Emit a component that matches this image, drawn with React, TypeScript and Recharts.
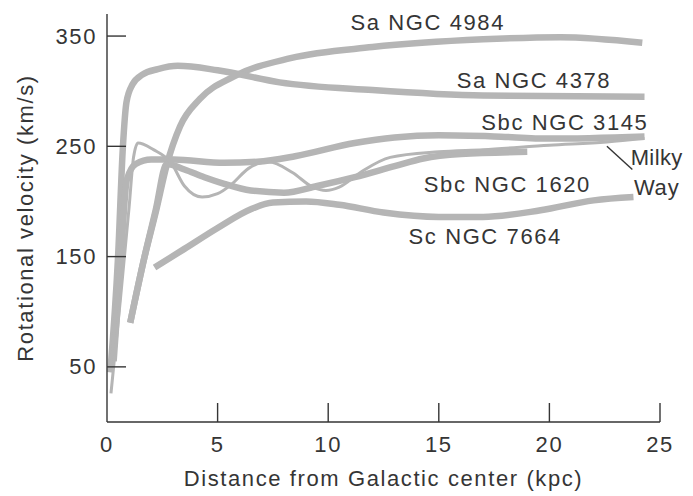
import React from 'react';
import { LineChart, Line, XAxis, YAxis, ReferenceDot, ReferenceLine } from 'recharts';

// distance (kpc) -> rotational velocity (km/s)
const sa4984 = [
  { d: 1.05, v: 90 }, { d: 1.7, v: 150 }, { d: 2.2, v: 190 }, { d: 2.7, v: 233 },
  { d: 3.3, v: 268 }, { d: 4.2, v: 293 }, { d: 5.7, v: 313 }, { d: 8.3, v: 330 },
  { d: 12, v: 340 }, { d: 17, v: 347 }, { d: 20.5, v: 349 }, { d: 24.2, v: 344 },
];
const sa4378 = [
  { d: 0.15, v: 45 }, { d: 0.5, v: 150 }, { d: 0.72, v: 250 }, { d: 0.88, v: 290 },
  { d: 1.15, v: 306 }, { d: 1.6, v: 315 }, { d: 2.3, v: 320 }, { d: 3.2, v: 323 },
  { d: 5, v: 319 }, { d: 7.8, v: 308 }, { d: 12, v: 301 }, { d: 17, v: 296 }, { d: 24.3, v: 295 },
];
const sbc3145 = [
  { d: 0.3, v: 55 }, { d: 0.6, v: 140 }, { d: 0.9, v: 220 }, { d: 1.3, v: 234 },
  { d: 2, v: 238 }, { d: 3, v: 238 }, { d: 5.3, v: 235 }, { d: 6.8, v: 236 },
  { d: 8.5, v: 241 }, { d: 11.2, v: 253 }, { d: 13, v: 258 }, { d: 15, v: 260 },
  { d: 17.5, v: 259 }, { d: 20, v: 257 }, { d: 24.3, v: 259 },
];
const sbc1620 = [
  { d: 1.05, v: 90 }, { d: 1.7, v: 150 }, { d: 2.2, v: 192 }, { d: 2.7, v: 234 },
  { d: 3.5, v: 229 }, { d: 4.4, v: 222 }, { d: 5.3, v: 216 }, { d: 6.5, v: 210 },
  { d: 8, v: 208 }, { d: 9.5, v: 214 }, { d: 11.2, v: 222 }, { d: 13, v: 232 },
  { d: 14.3, v: 239 }, { d: 16, v: 243 }, { d: 19, v: 245 },
];
const sc7664 = [
  { d: 2.15, v: 140 }, { d: 3.5, v: 157 }, { d: 5, v: 176 }, { d: 6.5, v: 193 },
  { d: 7.5, v: 199 }, { d: 9, v: 200 }, { d: 10.5, v: 197 }, { d: 12.5, v: 190 },
  { d: 15, v: 186 }, { d: 17, v: 186 }, { d: 19.6, v: 192 }, { d: 22, v: 201 }, { d: 23.8, v: 204 },
];
const milkyWay = [
  { d: 0.18, v: 26 }, { d: 0.6, v: 110 }, { d: 1.0, v: 195 }, { d: 1.2, v: 240 },
  { d: 1.4, v: 253 }, { d: 2.1, v: 247 }, { d: 2.9, v: 235 }, { d: 3.5, v: 214 },
  { d: 4.3, v: 204 }, { d: 5.0, v: 207 }, { d: 5.6, v: 215 }, { d: 6.4, v: 230 },
  { d: 7.3, v: 236 }, { d: 8.4, v: 226 }, { d: 9.3, v: 213 }, { d: 9.9, v: 210 },
  { d: 10.5, v: 213 }, { d: 11.5, v: 227 }, { d: 12.8, v: 240 }, { d: 15, v: 245 },
  { d: 17, v: 247 }, { d: 20, v: 251 }, { d: 22.6, v: 254 }, { d: 24.3, v: 257 },
];

const xTicks = [0, 5, 10, 15, 20, 25];
const yTicks = [50, 150, 250, 350];

const seriesLabels = [
  { text: 'Sa NGC 4984', d: 14.5, v: 362, ls: 1.6 },
  { text: 'Sa NGC 4378', d: 19.3, v: 310, ls: 1.6 },
  { text: 'Sbc NGC 3145', d: 20.7, v: 272, ls: 1.6 },
  { text: 'Sbc NGC 1620', d: 18.1, v: 215, ls: 1.6 },
  { text: 'Sc NGC 7664', d: 17.1, v: 168, ls: 1.6 },
  { text: 'Milky', d: 24.85, v: 240, ls: 0.4 },
  { text: 'Way', d: 24.85, v: 213, ls: 0.8 },
];
const leader = [{ d: 22.6, v: 250 }, { d: 23.75, v: 229 }];

const LINE = '#b5b5b5';
const INK = '#353535';
const FONT = '"Liberation Sans", Arial, Helvetica, sans-serif';
const FS = 22;
const LS = 1.6;

const YTick = (props: any) => {
  const { x, y, payload } = props;
  return (
    <g>
      <line x1={x} x2={x + 19} y1={y} y2={y} stroke={INK} strokeWidth={1.4} />
      <text x={x - 10} y={y} textAnchor="end" dominantBaseline="central" fill={INK}
        fontFamily={FONT} fontSize={FS} letterSpacing={LS}>{payload.value}</text>
    </g>
  );
};

const XTick = (props: any) => {
  const { x, y, payload } = props;
  return (
    <g>
      {payload.value !== 0 && (
        <line x1={x} x2={x} y1={y} y2={y - 19} stroke={INK} strokeWidth={1.4} />
      )}
      <text x={x} y={y + 22} textAnchor="middle" dominantBaseline="central" fill={INK}
        fontFamily={FONT} fontSize={FS} letterSpacing={LS}>{payload.value}</text>
    </g>
  );
};

const XTitle = (props: any) => {
  const vb = props.viewBox || {};
  return (
    <text x={vb.x + vb.width / 2} y={vb.y + 56} textAnchor="middle" dominantBaseline="central"
      fill={INK} fontFamily={FONT} fontSize={FS} letterSpacing={LS}>
      Distance from Galactic center (kpc)
    </text>
  );
};

const YTitle = (props: any) => {
  const vb = props.viewBox || {};
  const cx = vb.x + 17;
  const cy = vb.y + vb.height / 2;
  return (
    <text x={cx} y={cy} textAnchor="middle" dominantBaseline="central" transform={`rotate(-90 ${cx} ${cy})`}
      fill={INK} fontFamily={FONT} fontSize={FS} letterSpacing={LS}>
      Rotational velocity (km/s)
    </text>
  );
};

const SeriesText = (props: any) => {
  const vb = props.viewBox || {};
  const cx = vb.x + (vb.width || 0) / 2;
  const cy = vb.y + (vb.height || 0) / 2;
  return (
    <text x={cx} y={cy} textAnchor="middle" dominantBaseline="central" fill={INK}
      fontFamily={FONT} fontSize={FS} letterSpacing={props.ls}>{props.text}</text>
  );
};

const series = [
  { key: '4984', data: sa4984, w: 6.5 },
  { key: '4378', data: sa4378, w: 6.5 },
  { key: '3145', data: sbc3145, w: 6.5 },
  { key: '1620', data: sbc1620, w: 6.5 },
  { key: '7664', data: sc7664, w: 6.5 },
  { key: 'mw', data: milkyWay, w: 3 },
];

export default function App() {
  return (
    <div style={{ width: 685, height: 488 }}>
      <LineChart width={685} height={488} margin={{ top: 6, right: 33, bottom: 0, left: 0 }}>
        <XAxis type="number" dataKey="d" domain={[0, 25]} ticks={xTicks} interval={0}
          tickSize={0} tickMargin={0} tickLine={false} height={74}
          axisLine={{ stroke: INK, strokeWidth: 1.4 }} tick={<XTick />} label={<XTitle />} />
        <YAxis type="number" dataKey="v" domain={[0, 370]} ticks={yTicks} interval={0}
          tickSize={0} tickMargin={0} tickLine={false} width={99}
          axisLine={{ stroke: INK, strokeWidth: 1.4 }} tick={<YTick />} label={<YTitle />} />
        {series.map((s) => (
          <Line key={s.key} data={s.data} dataKey="v" type="monotone" stroke={LINE}
            strokeWidth={s.w} dot={false} activeDot={false} isAnimationActive={false} />
        ))}
        <ReferenceLine segment={[{ x: leader[0].d, y: leader[0].v }, { x: leader[1].d, y: leader[1].v }]}
          stroke={INK} strokeWidth={1.4} ifOverflow="visible" />
        {seriesLabels.map((l) => (
          <ReferenceDot key={l.text} x={l.d} y={l.v} r={0} fill="none" stroke="none"
            ifOverflow="visible" label={<SeriesText text={l.text} ls={l.ls} />} />
        ))}
      </LineChart>
    </div>
  );
}
